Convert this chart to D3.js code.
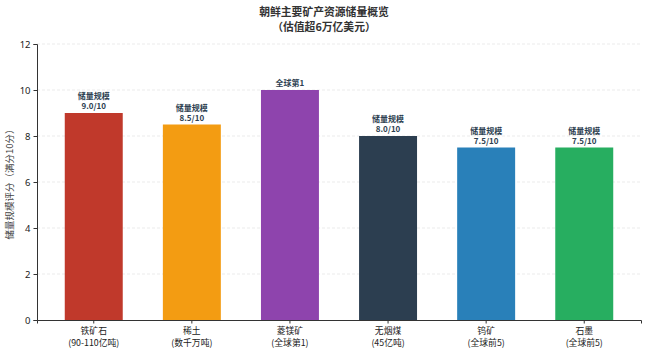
<!DOCTYPE html>
<html>
<head>
<meta charset="utf-8">
<script src="https://cdn.jsdelivr.net/npm/d3@7"></script>
<style>
  body { margin: 0; background: #fff; }
  svg { font-family: "Noto Sans CJK SC", "Noto Sans", sans-serif; }
</style>
</head>
<body>
<svg id="drawing_region"></svg>
<script>
const categories = ["铁矿石", "稀土", "菱镁矿", "无烟煤", "钨矿", "石墨"];
const subLabels = ["(90-110亿吨)", "(数千万吨)", "(全球第1)", "(45亿吨)", "(全球前5)", "(全球前5)"];
const scores = [9.0, 8.5, 10.0, 8.0, 7.5, 7.5];
const barLabels = [["储量规模", "9.0/10"], ["储量规模", "8.5/10"], ["全球第1"], ["储量规模", "8.0/10"], ["储量规模", "7.5/10"], ["储量规模", "7.5/10"]];
const colors = ["#c0392b", "#f39c12", "#8e44ad", "#2c3e50", "#2980b9", "#27ae60"];
const yTicks = [0, 2, 4, 6, 8, 10, 12];

const width = 648, height = 354;
const margin = {top: 44, right: 7, bottom: 34, left: 37};

const svg = d3.select("#drawing_region")
    .attr("width", width)
    .attr("height", height);

const xscale = d3.scaleBand()
    .domain(categories)
    .range([margin.left, width - margin.right])
    .paddingInner(0.409)
    .paddingOuter(0.283);

const yscale = d3.scaleLinear()
    .domain([0, 12])
    .range([height - margin.bottom, margin.top]);

const cx = i => xscale(categories[i]) + xscale.bandwidth() / 2;

// grid
svg.append("g")
    .selectAll("line")
    .data(yTicks.slice(1))
    .join("line")
    .attr("x1", margin.left)
    .attr("x2", width - margin.right)
    .attr("y1", d => yscale(d))
    .attr("y2", d => yscale(d))
    .attr("stroke", "#e6e6e6")
    .attr("stroke-width", 0.8)
    .attr("stroke-dasharray", "3,2");

// bars
svg.append("g")
    .selectAll("rect")
    .data(scores)
    .join("rect")
    .attr("x", (d, i) => xscale(categories[i]))
    .attr("y", d => yscale(d))
    .attr("width", xscale.bandwidth())
    .attr("height", d => yscale(0) - yscale(d))
    .attr("fill", (d, i) => colors[i]);

// bar labels, one text per line
const labelRows = [];
scores.forEach((d, i) => {
    const lines = barLabels[i];
    lines.forEach((s, k) => {
        labelRows.push({i: i, s: s, y: yscale(d) - 4 - (lines.length - 1 - k) * 10});
    });
});
svg.append("g")
    .selectAll("text")
    .data(labelRows)
    .join("text")
    .attr("x", d => cx(d.i))
    .attr("y", d => d.y)
    .attr("text-anchor", "middle")
    .attr("font-size", 8)
    .attr("font-weight", "bold")
    .attr("fill", "#2c3e50")
    .text(d => d.s);

// axes
const xaxis = d3.axisBottom(xscale).tickSize(3.5).tickFormat("");
const xg = svg.append("g")
    .attr("transform", `translate(0, ${yscale(0)})`)
    .call(xaxis);
xg.select(".domain").attr("stroke", "#333");
xg.selectAll(".tick line").attr("stroke", "#333");

const xg2 = svg.append("g");
xg2.selectAll("text.cat")
    .data(categories)
    .join("text")
    .attr("class", "cat")
    .attr("x", (d, i) => cx(i))
    .attr("y", yscale(0) + 13.5)
    .attr("text-anchor", "middle")
    .attr("font-size", 8.8)
    .attr("fill", "#222")
    .text(d => d);
xg2.selectAll("text.sub")
    .data(subLabels)
    .join("text")
    .attr("class", "sub")
    .attr("x", (d, i) => cx(i))
    .attr("y", yscale(0) + 26.3)
    .attr("text-anchor", "middle")
    .attr("font-size", 8.8)
    .attr("fill", "#222")
    .text(d => d);

const yaxis = d3.axisLeft(yscale).tickValues(yTicks).tickSize(3.5).tickPadding(3);
const yg = svg.append("g")
    .attr("transform", `translate(${margin.left}, 0)`)
    .call(yaxis);
yg.select(".domain").attr("stroke", "#333");
yg.selectAll(".tick line").attr("stroke", "#333");
yg.selectAll(".tick text")
    .attr("font-size", 9.5)
    .attr("fill", "#222")
    .style("font-family", "'Noto Sans', sans-serif");

// y label
svg.append("text")
    .attr("transform", `translate(13, ${(yscale(0) + yscale(12)) / 2}) rotate(-90)`)
    .attr("text-anchor", "middle")
    .attr("font-size", 9.5)
    .attr("fill", "#444")
    .text("储量规模评分（满分10分）");

// title
const titleLines = ["朝鲜主要矿产资源储量概览", "（估值超6万亿美元）"];
svg.append("g")
    .selectAll("text")
    .data(titleLines)
    .join("text")
    .attr("x", width / 2)
    .attr("y", (d, i) => 15.5 + i * 15)
    .attr("text-anchor", "middle")
    .attr("font-size", 10.8)
    .attr("font-weight", "bold")
    .attr("fill", "#333")
    .text(d => d);
</script>
</body>
</html>
